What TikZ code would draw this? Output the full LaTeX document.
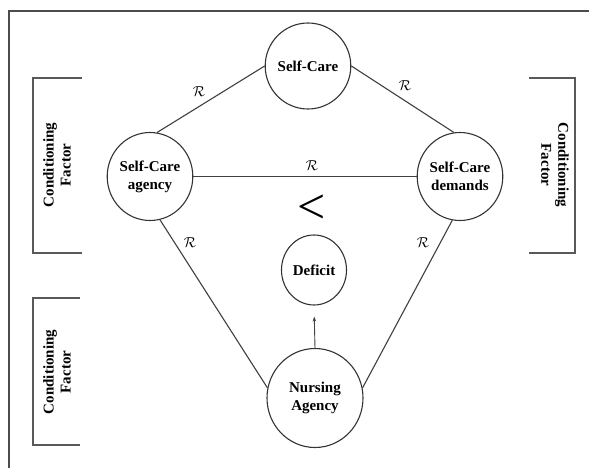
\documentclass[tikz,border=0pt]{standalone}
\usepackage{fontspec}
\setmainfont{Liberation Serif}
\usetikzlibrary{shapes.geometric,arrows.meta}
\begin{document}
\begin{tikzpicture}[x=1pt,y=-1pt,
  circ/.style={draw=black!80,line width=1.1pt,ellipse,inner sep=0pt,align=center,
    font=\bfseries\fontsize{15}{18}\selectfont},
  conn/.style={draw=black!75,line width=1.1pt},
  rlab/.style={font=\fontsize{14}{14}\selectfont,inner sep=0pt},
  brk/.style={draw=black!65,line width=1.4pt},
  cf/.style={align=center,font=\bfseries\fontsize{15}{17}\selectfont,inner sep=0pt}]
\useasboundingbox (0,0) rectangle (589,468);
\fill[white] (0,0) rectangle (589,468);
% frame
\draw[draw=black!70,line width=1.6pt] (589,11) -- (9,11) -- (9,468);
% circles
\node[circ,minimum width=82pt,minimum height=86pt] (selfcare) at (308,66) {Self-Care};
\node[circ,minimum width=85pt,minimum height=88pt] (agency) at (150,176.5) {Self-Care\\agency};
\node[circ,minimum width=82pt,minimum height=88pt] (demands) at (460,176.5) {Self-Care\\demands};
\node[circ,minimum width=65pt,minimum height=70pt] (deficit) at (314,270) {Deficit};
\node[circ,minimum width=96pt,minimum height=99pt] (nursing) at (315,398) {Nursing\\Agency};
% connectors
\draw[conn] (selfcare.west) -- (agency.81);
\draw[conn] (selfcare.east) -- (demands.98);
\draw[conn] (agency.east) -- (demands.west);
\draw[conn] (agency.283) -- (nursing.168);
\draw[conn] (demands.260) -- (nursing.12);
\draw[conn,line width=0.9pt,-{Stealth[length=5pt,width=3.5pt]},shorten >=11pt] (nursing.north) -- (deficit.south);
% R labels
\node[rlab] (r1) at (199,92) {$\mathcal{R}$};
\node[rlab] (r2) at (405,86) {$\mathcal{R}$};
\node[rlab] (r3) at (312,166) {$\mathcal{R}$};
\node[rlab] (r4) at (190,243) {$\mathcal{R}$};
\node[rlab] (r5) at (423,243) {$\mathcal{R}$};
% less-than symbol
\node[inner sep=0pt,font=\fontsize{50}{50}\selectfont] (lt) at (312,209) {<};
% brackets
\draw[brk] (82,78) -- (33,78) -- (33,253) -- (82,253);
\draw[brk] (80,298) -- (33,298) -- (33,445) -- (80,445);
\draw[brk] (529,78) -- (575,78) -- (575,253) -- (529,253);
\node[cf,rotate=90] (cf1) at (57,165) {Conditioning\\Factor};
\node[cf,rotate=90] (cf2) at (57,372) {Conditioning\\Factor};
\node[cf,rotate=-90] (cf3) at (555,165) {Conditioning\\Factor};
\end{tikzpicture}
\end{document}
